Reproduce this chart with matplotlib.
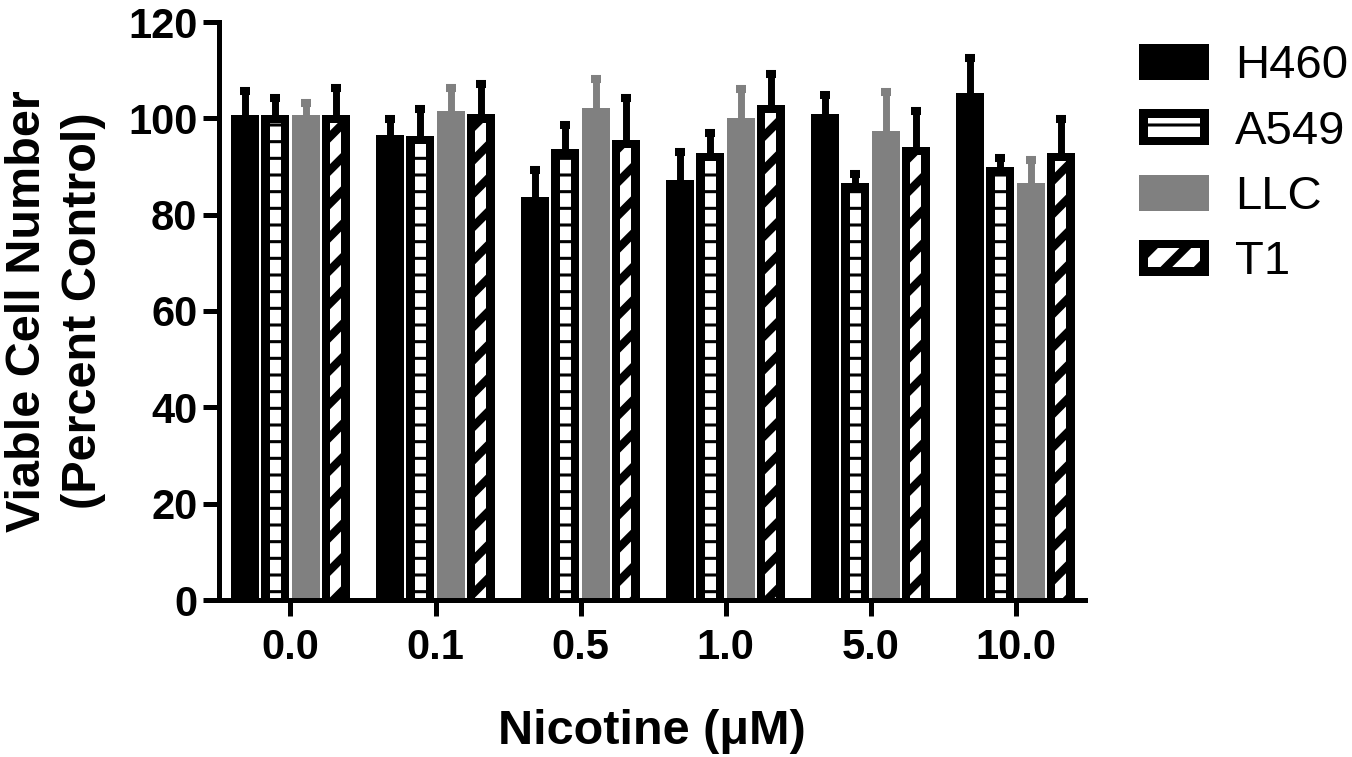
import numpy as np
import matplotlib
matplotlib.use('Agg')
import matplotlib.pyplot as plt
from matplotlib.patches import Rectangle
from matplotlib.legend_handler import HandlerBase

plt.rcParams['font.family'] = ['Liberation Sans', 'DejaVu Sans']
plt.rcParams['hatch.color'] = 'black'

# dữ liệu
doses = ['0.0', '0.1', '0.5', '1.0', '5.0', '10.0']
lines = ['H460', 'A549', 'LLC', 'T1']

h460 = [100.7, 96.5, 83.6, 87.2, 100.8, 105.3]
h460_err = [4.9, 3.4, 5.7, 5.8, 4.1, 7.2]
a549 = [100.7, 96.3, 93.6, 92.8, 86.6, 90.0]
a549_err = [3.5, 5.7, 5.0, 4.2, 1.9, 1.8]
llc = [100.7, 101.6, 102.2, 100.1, 97.3, 86.6]
llc_err = [2.4, 4.7, 6.0, 6.0, 8.1, 4.8]
t1 = [100.7, 100.8, 95.6, 102.8, 94.0, 92.8]
t1_err = [5.6, 6.3, 8.6, 6.4, 7.6, 7.1]

values = [h460, a549, llc, t1]
errors = [h460_err, a549_err, llc_err, t1_err]
colors = ['black', 'black', '#808080', 'black']
hatches = [None, '-', None, '/']
hatch_lw = [0, 2.2, 0, 6.0]

fig = plt.figure(figsize=(13.52, 7.57), dpi=100)
ax = fig.add_axes([219 / 1352, 157 / 757, (1085 - 219) / 1352, 578 / 757])

x = np.arange(len(doses))
slot = 0.2086
width = 0.193
bx = 0.058   # viền ngang (đơn vị dữ liệu)
by = 1.7     # viền trên

for i in range(len(lines)):
    pos = x + (i - 1.5) * slot
    vals = np.array(values[i])
    ax.bar(pos, vals, width, color=colors[i], linewidth=0, zorder=2)
    if hatches[i]:
        with plt.rc_context({'hatch.linewidth': hatch_lw[i]}):
            inner = ax.bar(pos, vals - by, width - 2 * bx, color='white',
                           edgecolor='black', linewidth=0, hatch=hatches[i], zorder=2.1)
        for p in inner:
            if hasattr(p, 'set_hatch_linewidth'):
                p.set_hatch_linewidth(hatch_lw[i])
    eb = ax.errorbar(pos, vals, yerr=[np.zeros(len(vals)), errors[i]], fmt='none',
                     ecolor=colors[i], elinewidth=5, capsize=3.6, capthick=5.8, zorder=1.5)
    eb[1][0].set_visible(False)

ax.set_xlim(-0.493, 5.479)
ax.set_ylim(0, 120)
ax.set_yticks(np.arange(0, 121, 20))
ax.set_xticks(x)
ax.set_xticklabels(doses)
for s in ['top', 'right']:
    ax.spines[s].set_visible(False)
for s in ['left', 'bottom']:
    ax.spines[s].set_linewidth(3.6)
    ax.spines[s].set_zorder(3)
ax.tick_params(axis='both', width=3.6, length=11.5, labelsize=30)
ax.tick_params(axis='y', pad=4)
ax.tick_params(axis='x', pad=9)
for lab in ax.get_xticklabels() + ax.get_yticklabels():
    lab.set_fontweight('bold')

ax.set_ylabel('Viable Cell Number\n(Percent Control)', fontsize=35, fontweight='bold',
              labelpad=16, linespacing=1.3)
ax.set_xlabel('Nicotine (\u03bcM)', fontsize=35, fontweight='bold', labelpad=29)


# chú thích tự vẽ: hộp viền đen + nền trắng có gạch
class Box:
    def __init__(self, color, hatch, hlw):
        self.color = color
        self.hatch = hatch
        self.hlw = hlw


class BoxHandler(HandlerBase):
    def create_artists(self, legend, orig_handle, xdescent, ydescent,
                       width, height, fontsize, trans):
        x0, y0 = -xdescent, -ydescent
        arts = [Rectangle((x0, y0), width, height, facecolor=orig_handle.color,
                          edgecolor='none', transform=trans)]
        if orig_handle.hatch:
            ex = width * 0.13
            ey = height * 0.24
            with plt.rc_context({'hatch.linewidth': orig_handle.hlw}):
                r = Rectangle((x0 + ex, y0 + ey), width - 2 * ex, height - 2 * ey,
                              facecolor='white', edgecolor='black', linewidth=0,
                              hatch=orig_handle.hatch, transform=trans)
            if hasattr(r, 'set_hatch_linewidth'):
                r.set_hatch_linewidth(orig_handle.hlw)
            arts.append(r)
        return arts


handles = [Box(colors[i], hatches[i], hatch_lw[i]) for i in range(len(lines))]
fig.legend(handles, lines, handler_map={Box: BoxHandler()},
           loc='upper left', bbox_to_anchor=(1139 / 1352, 1 - 44 / 757),
           frameon=False, fontsize=34, borderpad=0, borderaxespad=0,
           handlelength=1.48, handleheight=0.8, handletextpad=0.55, labelspacing=0.44)

fig.savefig('out.png', dpi=100)
